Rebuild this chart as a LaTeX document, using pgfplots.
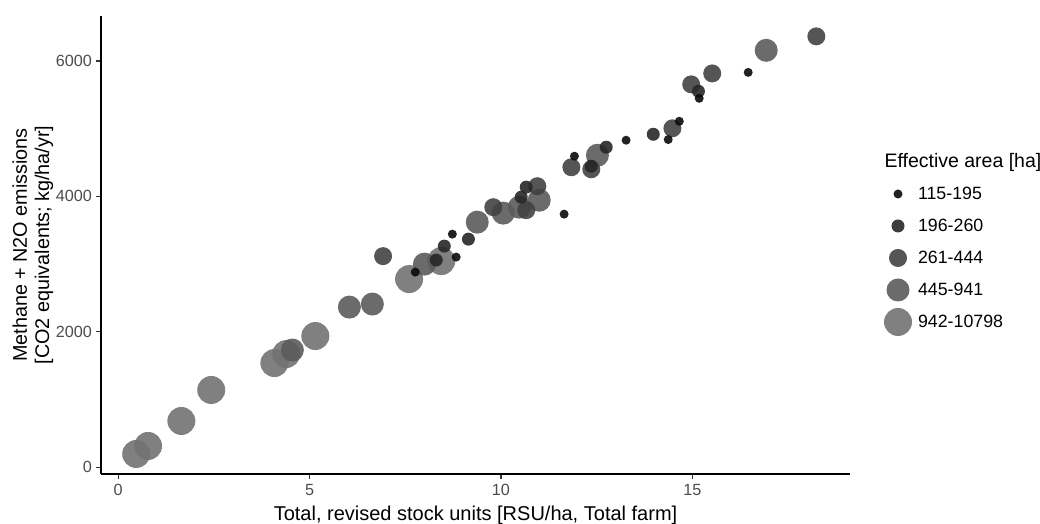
\documentclass[border=0pt]{standalone}
\usepackage{fontspec}
\setmainfont{Liberation Sans}
\usepackage{pgfplots}
\pgfplotsset{compat=1.18}
\definecolor{cA}{HTML}{0A0A0A}
\definecolor{cB}{HTML}{272727}
\definecolor{cC}{HTML}{424242}
\definecolor{cD}{HTML}{5B5B5B}
\definecolor{cE}{HTML}{727272}
\definecolor{ticklab}{HTML}{4D4D4D}
\definecolor{tickcol}{HTML}{333333}
\begin{document}
\begin{tikzpicture}
\useasboundingbox (0,0) rectangle (1040pt,524pt);
\begin{axis}[
  at={(101pt,50pt)}, anchor=south west,
  scale only axis, width=749pt, height=458pt,
  xmin=-0.45, xmax=19.12, ymin=-100, ymax=6665,
  axis x line*=bottom, axis y line*=left,
  axis line style={black, line width=1.1pt, -},
  xtick={0,5,10,15}, ytick={0,2000,4000,6000},
  tick align=outside, major tick length=4.9pt,
  tick style={tickcol, line width=1.1pt},
  /pgf/number format/assume math mode=true,
  /pgf/number format/1000 sep={},
  ticklabel style={font=\fontsize{16.2}{18}\selectfont, text=ticklab},
  xticklabel style={inner sep=0pt, anchor=north, yshift=-5.5pt},
  yticklabel style={inner sep=0pt, anchor=east, xshift=-3.9pt},
  legend style={draw=none, fill=none, at={(axis description cs:1.0454,0.6463)}, anchor=north west, inner sep=0pt, outer sep=0pt, row sep=0pt, column sep=0pt, font=\fontsize{17.8}{20}\selectfont, nodes={inner sep=0pt}},
  legend cell align=left,
  reverse legend,
]
% 942-10798
\addplot[only marks, mark=*, mark size=14pt, mark options={fill=cE, draw opacity=0, fill opacity=0.9},
  legend image code/.code={\path[draw=none, fill=none] (0pt,-16pt) rectangle (34pt,16pt); \fill[cE, fill opacity=0.9, draw=none] (14pt,0pt) circle (14pt);}]
coordinates {(0.47,196) (0.78,314) (1.65,683) (2.43,1141) (4.08,1539) (4.39,1672) (5.15,1938) (7.60,2779) (8.44,3045)};
\addlegendentry{942-10798}
% 445-941
\addplot[only marks, mark=*, mark size=11.5pt, mark options={fill=cD, draw opacity=0, fill opacity=0.9},
  legend image code/.code={\path[draw=none, fill=none] (0pt,-16pt) rectangle (34pt,16pt); \fill[cD, fill opacity=0.9, draw=none] (14pt,0pt) circle (11.5pt);}]
coordinates {(4.55,1731) (6.04,2365) (6.64,2410) (8.00,3000) (9.38,3620) (10.06,3753) (10.48,3841) (11.00,3944) (12.52,4608) (16.93,6158)};
\addlegendentry{445-941}
% 261-444
\addplot[only marks, mark=*, mark size=9pt, mark options={fill=cC, draw opacity=0, fill opacity=0.9},
  legend image code/.code={\path[draw=none, fill=none] (0pt,-16pt) rectangle (34pt,16pt); \fill[cC, fill opacity=0.9, draw=none] (14pt,0pt) circle (9pt);}]
coordinates {(6.92,3118) (9.80,3841) (10.95,4151) (10.66,3797) (11.84,4431) (12.36,4401) (14.48,5006) (14.97,5655) (15.52,5817) (18.24,6364)};
\addlegendentry{261-444}
% 196-260
\addplot[only marks, mark=*, mark size=6.5pt, mark options={fill=cB, draw opacity=0, fill opacity=0.9},
  legend image code/.code={\path[draw=none, fill=none] (0pt,-16pt) rectangle (34pt,16pt); \fill[cB, fill opacity=0.9, draw=none] (14pt,0pt) circle (6.5pt);}]
coordinates {(8.31,3060) (8.52,3266) (9.15,3369) (10.66,4137) (10.53,3989) (12.36,4446) (12.75,4727) (13.98,4918) (15.16,5553)};
\addlegendentry{196-260}
% 115-195
\addplot[only marks, mark=*, mark size=4.5pt, mark options={fill=cA, draw opacity=0, fill opacity=0.9},
  legend image code/.code={\path[draw=none, fill=none] (0pt,-16pt) rectangle (34pt,16pt); \fill[cA, fill opacity=0.9, draw=none] (14pt,0pt) circle (4.5pt);}]
coordinates {(7.76,2882) (8.83,3104) (8.73,3443) (11.65,3738) (11.92,4594) (13.27,4830) (14.37,4840) (14.66,5110) (15.18,5449) (16.46,5832)};
\addlegendentry{115-195}
\end{axis}
\node[anchor=base, font=\fontsize{20}{22}\selectfont] at (475.5pt,3pt) {Total, revised stock units [RSU/ha, Total farm]};
\node[anchor=base, rotate=90, font=\fontsize{19.8}{22}\selectfont] at (27pt,279pt) {Methane + N2O emissions};
\node[anchor=base, rotate=90, font=\fontsize{19.8}{22}\selectfont] at (49pt,279pt) {[CO2 equivalents; kg/ha/yr]};
\node[anchor=base west, font=\fontsize{19.5}{22}\selectfont] at (881pt,356pt) {Effective area [ha]};
\end{tikzpicture}
\end{document}
